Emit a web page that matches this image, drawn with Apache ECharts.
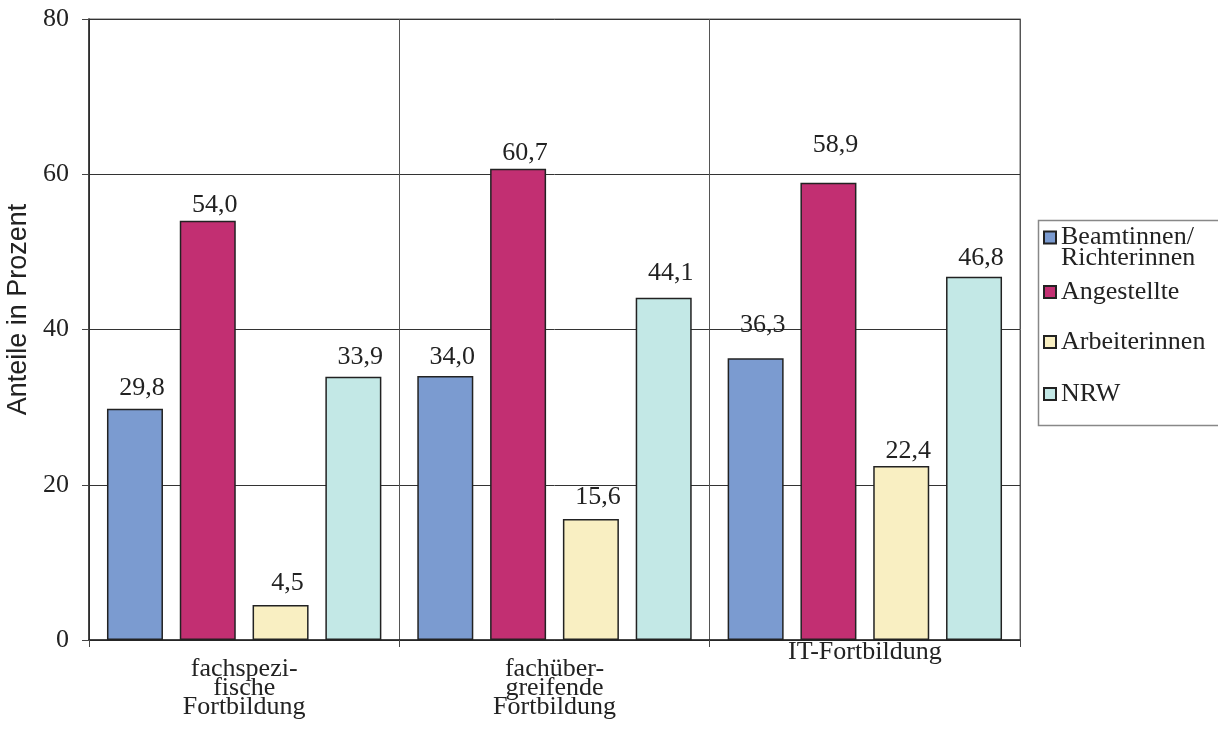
<!DOCTYPE html>
<html>
<head>
<meta charset="utf-8">
<script src="https://cdn.jsdelivr.net/npm/echarts@6/dist/echarts.min.js"></script>
<style>
  html, body { margin: 0; padding: 0; background: #fff; }
  #chart { width: 1218px; height: 733px; }
</style>
</head>
<body>
<div id="chart"></div>
<script>
// Categories (x axis)
const categories = ['fachspezi-\nfische\nFortbildung', 'fachüber-\ngreifende\nFortbildung', 'IT-Fortbildung'];

// Series values (percent)
const beamtinnen = [29.8, 34.0, 36.3];
const angestellte = [54.0, 60.7, 58.9];
const arbeiterinnen = [4.5, 15.6, 22.4];
const nrw = [33.9, 44.1, 46.8];

const seriesNames = ['Beamtinnen/\nRichterinnen', 'Angestellte', 'Arbeiterinnen', 'NRW'];
const seriesColors = ['#7b9bd0', '#c22f72', '#f9efc2', '#c3e8e6'];

// Y axis ticks
const yMin = 0, yMax = 80, yStep = 20;

// Extra lift of the value labels, per series and category (pixels)
const labelLift = [[5, 3, 17], [0, 0, 22], [6, 6, -1], [4, 9, 3]];

const serif = "'Liberation Serif', 'Times New Roman', serif";
const fmt = v => v.toFixed(1).replace('.', ',');

function buildSeries(name, values, color, idx) {
    return {
        name: name,
        type: 'bar',
        barWidth: 56,
        barGap: '30%',
        itemStyle: { color: color, borderColor: '#222', borderWidth: 1.5 },
        label: {
            show: true,
            position: 'top',
            distance: 3,
            fontFamily: serif,
            fontSize: 26,
            color: '#222',
            formatter: p => fmt(p.value)
        },
        data: values.map((v, i) => ({
            value: v,
            label: { offset: [7, -labelLift[idx][i]] }
        }))
    };
}

const chart = echarts.init(document.getElementById('chart'), null, { renderer: 'canvas' });

// one legend per item so the uneven spacing can be matched
const legendTops = [203.5, 279, 329, 381];
const legends = seriesNames.map((name, i) => ({
    data: [name],
    orient: 'vertical',
    left: 1043,
    top: legendTops[i],
    padding: 0,
    itemWidth: 12,
    itemHeight: 12,
    icon: 'rect',
    selectedMode: false,
    // first entry: blank line on top so the square sits by the first text line
    formatter: i === 0 ? (n => ' \n' + n) : null,
    textStyle: {
        fontFamily: serif,
        fontSize: 26,
        color: '#222',
        lineHeight: i === 0 ? 21 : 22
    }
}));

const option = {
    animation: false,
    backgroundColor: '#fff',
    grid: {
        left: 89, right: 198, top: 19, bottom: 93,
        outerBoundsMode: 'none',
        containLabel: false,
        show: true, borderColor: '#999', borderWidth: 1.5
    },
    legend: legends,
    xAxis: {
        type: 'category',
        data: categories.map((c, i) => ({
            value: c,
            textStyle: { padding: i < 2 ? [17, 0, 0, 0] : 0 }
        })),
        axisLine: { lineStyle: { color: '#222', width: 1.5 } },
        axisTick: { show: true, length: 7, lineStyle: { color: '#444' } },
        axisLabel: {
            fontFamily: serif,
            fontSize: 26,
            lineHeight: 19,
            color: '#222',
            margin: 3
        },
        splitLine: { show: true, lineStyle: { color: '#555', width: 1 } }
    },
    yAxis: {
        type: 'value',
        min: yMin,
        max: yMax,
        interval: yStep,
        name: 'Anteile in Prozent',
        nameLocation: 'middle',
        nameGap: 54,
        nameTextStyle: {
            fontFamily: "'Liberation Sans', Arial, sans-serif",
            fontSize: 27,
            color: '#222',
            padding: [0, 0, 0, 40]
        },
        axisLine: { show: true, lineStyle: { color: '#222', width: 1.5 } },
        axisTick: { show: true, length: 7, lineStyle: { color: '#444' } },
        axisLabel: { fontFamily: serif, fontSize: 26, color: '#222', margin: 20 },
        splitLine: { show: true, lineStyle: { color: '#333', width: 1 } }
    },
    graphic: [{
        type: 'rect',
        left: 1036,
        top: 218,
        shape: { width: 200, height: 205 },
        style: { fill: 'none', stroke: '#888', lineWidth: 1.5 },
        silent: true
    }],
    series: [
        buildSeries(seriesNames[0], beamtinnen, seriesColors[0], 0),
        buildSeries(seriesNames[1], angestellte, seriesColors[1], 1),
        buildSeries(seriesNames[2], arbeiterinnen, seriesColors[2], 2),
        buildSeries(seriesNames[3], nrw, seriesColors[3], 3)
    ]
};

chart.setOption(option);
</script>
</body>
</html>
